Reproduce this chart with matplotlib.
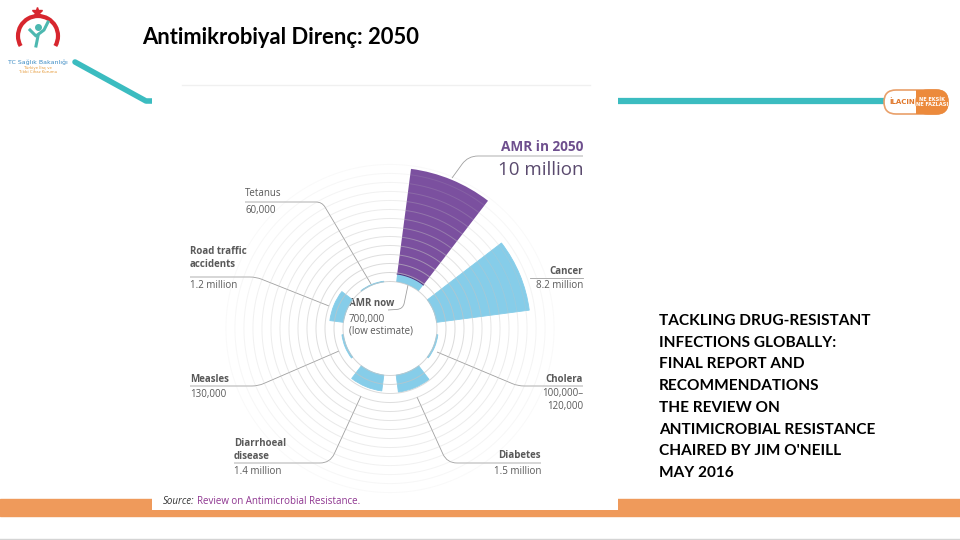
import matplotlib.pyplot as plt
import numpy as np
from matplotlib.patches import Rectangle, FancyBboxPatch, Arc, PathPatch
from matplotlib.path import Path

# data: deaths per year (millions)
categories = ['AMR in 2050', 'Cancer', 'Cholera', 'Diabetes',
              'Diarrhoeal disease', 'Measles', 'Road traffic accidents', 'Tetanus']
deaths_m = [10.0, 8.2, 0.11, 1.5, 1.4, 0.13, 1.2, 0.06]
amr_now_m = 0.7

label_text = {
    'AMR in 2050': '10 million',
    'Cancer': '8.2 million',
    'Cholera': '100,000–\n120,000',
    'Diabetes': '1.5 million',
    'Diarrhoeal disease': '1.4 million',
    'Measles': '130,000',
    'Road traffic accidents': '1.2 million',
    'Tetanus': '60,000',
}

report_lines = ['TACKLING DRUG-RESISTANT', 'INFECTIONS GLOBALLY:', 'FINAL REPORT AND',
                'RECOMMENDATIONS', 'THE REVIEW ON', 'ANTIMICROBIAL RESISTANCE',
                "CHAIRED BY JIM O'NEILL", 'MAY 2016']

PURPLE = '#7b509f'
BLUE = '#86cde9'
TEAL = '#3bbcc0'
ORANGE = '#ef9a5b'
GREY_TXT = '#595959'
LEAD = '#a0a0a0'

W, H = 960, 540
fig = plt.figure(figsize=(9.6, 5.4), dpi=100)
bg = fig.add_axes([0, 0, 1, 1])
bg.set_xlim(0, W)
bg.set_ylim(H, 0)
bg.axis('off')

# slide decoration
bg.plot([75, 146, 160], [62, 101, 101], color=TEAL, lw=4, solid_capstyle='round', zorder=1)
bg.plot([610, 884], [101, 101], color=TEAL, lw=4.5, zorder=1)
bg.add_patch(Rectangle((0, 499), W, 17, color=ORANGE, zorder=1))
bg.plot([0, W], [539, 539], color='#d4d4d4', lw=1, zorder=1)
bg.add_patch(Rectangle((152, 84), 466, 426, fc='white', ec='none', zorder=2))
bg.plot([182, 590], [85, 85], color='#f0f0f0', lw=1, zorder=2)

# ministry logo (simplified)
bg.add_patch(Arc((38, 36), 40, 40, angle=0, theta1=-210, theta2=30, color='#d7262e', lw=3, zorder=3))
bg.plot([37], [12], marker='*', ms=7, color='#d7262e', zorder=3)
bg.plot([38], [27], marker='o', ms=4, color='#4cb8b0', zorder=3)
bg.plot([30, 36, 44, 48], [30, 36, 30, 22], color='#4cb8b0', lw=2.2, zorder=3)
bg.plot([38, 36], [36, 46], color='#4cb8b0', lw=2.2, zorder=3)
bg.text(38, 62, 'TC Sağlık Bakanlığı', fontsize=4.5, color='#3d8cc4', ha='center', va='center',
        family='DejaVu Sans', zorder=3)
bg.text(38, 70, 'Türkiye İlaç ve\nTıbbi Cihaz Kurumu', fontsize=2.8, color='#e59a3a',
        ha='center', va='center', linespacing=1.0, zorder=3)

# pill logo
bg.add_patch(FancyBboxPatch((884, 90), 64, 24, boxstyle='round,pad=0,rounding_size=12',
                            fc='white', ec='#e9a06a', lw=1.2, zorder=3))
bg.add_patch(FancyBboxPatch((916, 90), 32, 24, boxstyle='round,pad=0,rounding_size=12',
                            fc='#ec8a3c', ec='#ec8a3c', lw=1, zorder=3))
bg.add_patch(Rectangle((916, 90), 12, 24, fc='#ec8a3c', ec='none', zorder=3))
bg.text(902, 102, 'İLACIN', fontsize=5, color='#e0782c', fontweight='bold', ha='center', va='center', zorder=4)
bg.text(932, 102, 'NE EKSİK\nNE FAZLASI', fontsize=3.6, color='white', fontweight='bold',
        ha='center', va='center', linespacing=1.1, zorder=4)

# title and report text
bg.text(142, 37, 'Antimikrobiyal Direnç: 2050', fontsize=15.8, fontweight='bold',
        family='Lato', color='black', va='center', zorder=3)
for i, line in enumerate(report_lines):
    bg.text(659, 321 + i * 21.7, line, fontsize=11.1, family='Lato', fontweight='bold',
            color='black', va='center', zorder=3)

# polar chart
PX_PER_M = 11.4
BASE = 47 / PX_PER_M
RMAX = 15.6
half = RMAX * PX_PER_M
cx, cy = 390, 328.5
pax = fig.add_axes([(cx - half) / W, (H - cy - half) / H, 2 * half / W, 2 * half / H],
                   projection='polar')
pax.set_zorder(2)
pax.set_theta_zero_location('N')
pax.set_theta_direction(-1)
pax.set_ylim(0, RMAX)
pax.axis('off')

theta = np.deg2rad(22.5 + 45 * np.arange(len(categories)))
width = np.deg2rad(30)

for t, cat, v in zip(theta, categories, deaths_m):
    if cat == 'AMR in 2050':
        pax.bar(t, amr_now_m, width=width, bottom=BASE, color=BLUE, lw=0, zorder=2)
        pax.bar(t, v - amr_now_m, width=width, bottom=BASE + amr_now_m, color=PURPLE, lw=0, zorder=2)
        pax.plot(np.linspace(t - width / 2, t + width / 2, 30), [BASE + amr_now_m] * 30,
                 color='#4f3580', lw=0.8, zorder=3)
    else:
        pax.bar(t, v, width=width, bottom=BASE, color=BLUE, ec=BLUE, lw=0.6, zorder=2)

ring_t = np.linspace(0, 2 * np.pi, 361)
for k in range(14):
    a = 0.7 * (1 - k / 15.0)
    pax.plot(ring_t, np.full_like(ring_t, BASE + k * 0.79), color='#c4c4c4', lw=0.7,
             alpha=a, zorder=4)


def lead(points, r=6):
    if len(points) == 2:
        (x0, y0), (x1, y1) = points
        bg.plot([x0, x1], [y0, y1], color=LEAD, lw=0.6, zorder=3)
        return
    a, b, c = [np.array(p, dtype=float) for p in points]
    v1 = (a - b) / np.hypot(*(a - b))
    v2 = (c - b) / np.hypot(*(c - b))
    p1 = b + v1 * r
    p2 = b + v2 * r
    path = Path([a, p1, b, p2, c],
                [Path.MOVETO, Path.LINETO, Path.CURVE3, Path.CURVE3, Path.LINETO])
    bg.add_patch(PathPatch(path, fc='none', ec=LEAD, lw=0.6, zorder=3))


FS = 7
fam = 'Open Sans'
# left-side labels
bg.text(245, 194, 'Tetanus', fontsize=FS, color=GREY_TXT, family=fam, va='center', zorder=3)
bg.text(245, 210, label_text['Tetanus'], fontsize=FS, color=GREY_TXT, family=fam, va='center', zorder=3)
lead([(245, 202), (322, 202), (371, 284)])

bg.text(190, 258, 'Road traffic\naccidents', fontsize=FS, color=GREY_TXT, family=fam,
        fontweight='bold', va='center', linespacing=1.35, zorder=3)
bg.text(190, 286, label_text['Road traffic accidents'], fontsize=FS, color=GREY_TXT, family=fam, va='center', zorder=3)
lead([(190, 277), (256, 277), (329, 306)])

bg.text(190, 379, 'Measles', fontsize=FS, color=GREY_TXT, family=fam, fontweight='bold', va='center', zorder=3)
bg.text(190, 395, label_text['Measles'], fontsize=FS, color=GREY_TXT, family=fam, va='center', zorder=3)
lead([(190, 386), (258, 386), (339, 351)])

bg.text(234, 450, 'Diarrhoeal\ndisease', fontsize=FS, color=GREY_TXT, family=fam,
        fontweight='bold', va='center', linespacing=1.35, zorder=3)
bg.text(234, 472, label_text['Diarrhoeal disease'], fontsize=FS, color=GREY_TXT, family=fam, va='center', zorder=3)
lead([(234, 463), (330, 463), (361, 396)], r=10)

# right-side labels
bg.text(541, 456, 'Diabetes', fontsize=FS, color=GREY_TXT, family=fam, fontweight='bold',
        ha='right', va='center', zorder=3)
bg.text(541, 472, label_text['Diabetes'], fontsize=FS, color=GREY_TXT, family=fam, ha='right', va='center', zorder=3)
lead([(541, 463), (447, 463), (417, 397)], r=10)

bg.text(583, 379, 'Cholera', fontsize=FS, color=GREY_TXT, family=fam, fontweight='bold',
        ha='right', va='center', zorder=3)
bg.text(583, 400, label_text['Cholera'], fontsize=FS, color=GREY_TXT, family=fam, ha='right',
        va='center', linespacing=1.2, zorder=3)
lead([(583, 386), (518, 386), (437, 352)])

bg.text(583, 271, 'Cancer', fontsize=FS, color=GREY_TXT, family=fam, fontweight='bold',
        ha='right', va='center', zorder=3)
bg.text(583, 286, label_text['Cancer'], fontsize=FS, color=GREY_TXT, family=fam, ha='right', va='center', zorder=3)
lead([(583, 278), (530, 278)])

bg.text(583, 147, 'AMR in 2050', fontsize=9.8, color='#6e4f8e', family=fam, fontweight='bold',
        ha='right', va='center', zorder=3)
bg.text(583, 170, label_text['AMR in 2050'], fontsize=13.5, color='#5a4a6e', family=fam,
        ha='right', va='center', zorder=3)
lead([(583, 156), (468, 156), (452, 178)], r=10)

bg.text(349, 304, 'AMR now', fontsize=FS, color=GREY_TXT, family=fam, fontweight='bold', va='center', zorder=5)
bg.text(349, 325, '700,000\n(low estimate)', fontsize=FS, color=GREY_TXT, family=fam,
        va='center', linespacing=1.1, zorder=5)
lead([(388, 310), (403, 309), (408, 285)], r=6)

bg.text(163, 502, 'Source:', fontsize=7, style='italic', color='#333333', family=fam, va='center', zorder=3)
bg.text(197, 502, 'Review on Antimicrobial Resistance.', fontsize=7, color='#8e3590',
        family=fam, va='center', zorder=3)

fig.savefig('out.png', dpi=100)
